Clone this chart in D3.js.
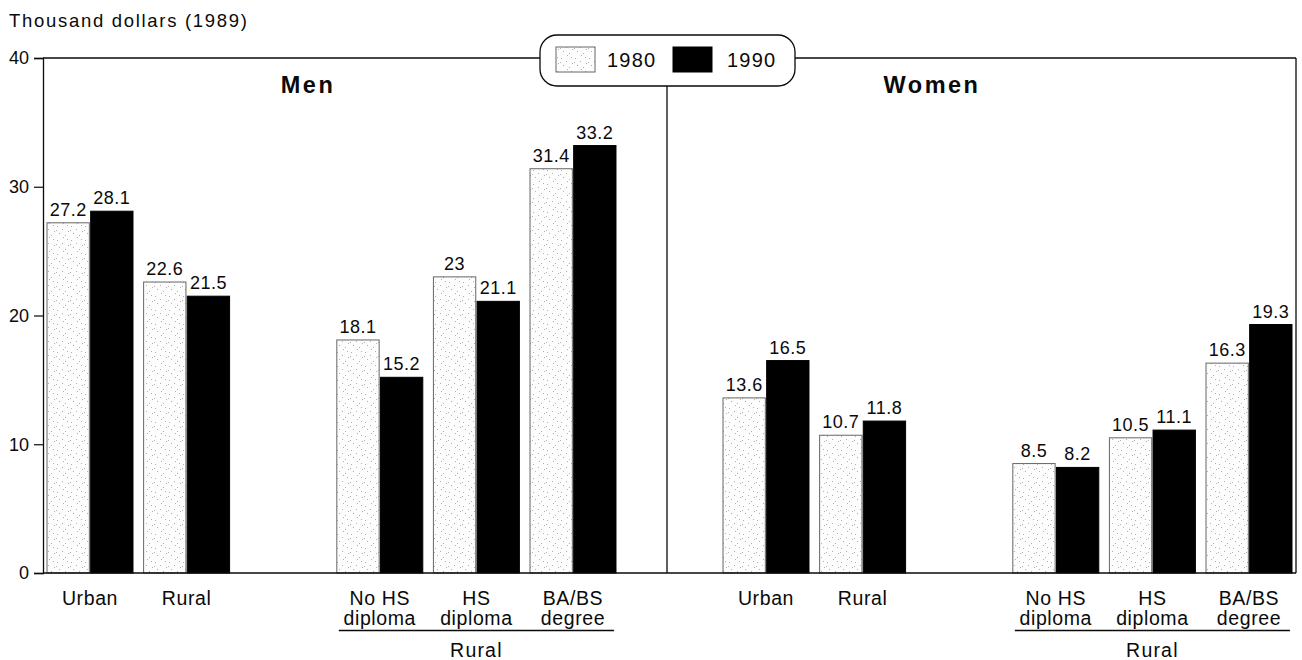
<!DOCTYPE html>
<html>
<head>
<meta charset="utf-8">
<script src="https://cdn.jsdelivr.net/npm/d3@7"></script>
<style>
  html, body { margin: 0; padding: 0; background: #fff; }
  svg { display: block; font-family: "Liberation Sans", Arial, Helvetica, sans-serif; }
</style>
</head>
<body>
<svg id="chart" width="1302" height="660"></svg>
<script>
// ---------- DATA ----------
const years = ["1980", "1990"];
const slots = ["Urban", "Rural", "gap", "NoHS", "HS", "BA"];
const slotLabels = { Urban: ["Urban"], Rural: ["Rural"], NoHS: ["No HS", "diploma"], HS: ["HS", "diploma"], BA: ["BA/BS", "degree"] };
const categories = ["Urban", "Rural", "NoHS", "HS", "BA"];
const panels = ["Men", "Women"];
const men1980 = [27.2, 22.6, 18.1, 23, 31.4];
const men1990 = [28.1, 21.5, 15.2, 21.1, 33.2];
const women1980 = [13.6, 10.7, 8.5, 10.5, 16.3];
const women1990 = [16.5, 11.8, 8.2, 11.1, 19.3];
const yTicks = [0, 10, 20, 30, 40];
const yTitle = "Thousand dollars (1989)";
const groupLabel = "Rural";

// ---------- LAYOUT ----------
const W = 1302, H = 660;
const axisX = 43, rightX = 1296, dividerX = 667;
const yTop = 58, yBottom = 573;
const step = 96.6;
const panelFirstCenter = { Men: axisX + 47, Women: dividerX + 99 };
const font = '"Liberation Sans", Arial, Helvetica, sans-serif';
const ink = "#0a0a0a";

const svg = d3.select("#chart");
const defs = svg.append("defs");

// stipple pattern for 1980 bars
const pat = defs.append("pattern").attr("id", "stip").attr("patternUnits", "userSpaceOnUse")
  .attr("width", 14).attr("height", 14);
pat.append("rect").attr("width", 14).attr("height", 14).attr("fill", "#fdfdfd");
[[1,2],[6,5],[11,1],[3,9],[9,11],[12,7],[7,13],[0,6]].forEach(([a,b]) =>
  pat.append("rect").attr("x", a).attr("y", b).attr("width", 1).attr("height", 1).attr("fill", "#b0b0b0"));

const y = d3.scaleLinear().domain([0, 40]).range([yBottom, yTop]);

// y axis
const yAxis = d3.axisLeft(y).tickValues(yTicks).tickSize(9).tickPadding(5).tickFormat(d3.format("d"));
const gy = svg.append("g").attr("transform", `translate(${axisX},0)`).call(yAxis);
gy.select(".domain").attr("stroke", ink).attr("stroke-width", 1.3);
gy.selectAll(".tick line").attr("stroke", ink).attr("stroke-width", 1.2);
gy.selectAll(".tick text").attr("font-family", font).attr("font-size", 18).attr("fill", ink);

// y title
svg.append("text").attr("x", 9).attr("y", 27).attr("font-size", 18.5).attr("letter-spacing", 1.7)
  .attr("fill", ink).text(yTitle);

// legend geometry
const legX0 = 540, legX1 = 795, legY0 = 35, legY1 = 86;

// frame: top line split by legend, right edge, divider
svg.append("line").attr("x1", axisX).attr("x2", legX0).attr("y1", yTop).attr("y2", yTop).attr("stroke", ink).attr("stroke-width", 1.3);
svg.append("line").attr("x1", legX1).attr("x2", rightX).attr("y1", yTop).attr("y2", yTop).attr("stroke", ink).attr("stroke-width", 1.3);
svg.append("line").attr("x1", rightX).attr("x2", rightX).attr("y1", yTop).attr("y2", yBottom).attr("stroke", ink).attr("stroke-width", 1.3);
svg.append("line").attr("x1", dividerX).attr("x2", dividerX).attr("y1", legY1).attr("y2", yBottom).attr("stroke", ink).attr("stroke-width", 1.3);

// legend
svg.append("rect").attr("x", legX0).attr("y", legY0).attr("width", legX1 - legX0).attr("height", legY1 - legY0)
  .attr("rx", 17).attr("fill", "#fff").attr("stroke", ink).attr("stroke-width", 1.3);
const legItems = [{ y: "1980", sx: 556, tx: 607 }, { y: "1990", sx: 673, tx: 727 }];
legItems.forEach((it, i) => {
  svg.append("rect").attr("x", it.sx).attr("y", 47).attr("width", 39).attr("height", 25)
    .attr("fill", i === 0 ? "url(#stip)" : "#000").attr("stroke", i === 0 ? "#666" : "#000").attr("stroke-width", 1);
  svg.append("text").attr("x", it.tx).attr("y", 67).attr("font-size", 20).attr("letter-spacing", 1.2)
    .attr("fill", ink).text(it.y);
});

// panels
const panelData = {
  Men: [men1980, men1990],
  Women: [women1980, women1990]
};

panels.forEach(p => {
  const c0 = panelFirstCenter[p];
  const x = d3.scaleBand().domain(slots).range([c0 - step / 2, c0 + 5.5 * step]).paddingInner(0.11).paddingOuter(0.055);
  const xi = d3.scaleBand().domain(years).range([0, x.bandwidth()]).paddingInner(0.03);
  const g = svg.append("g");

  const rows = [];
  categories.forEach((c, ci) => years.forEach((yr, yi) => rows.push({ c, yr, v: panelData[p][yi][ci] })));

  g.selectAll("rect.bar").data(rows).join("rect").attr("class", "bar")
    .attr("x", d => x(d.c) + xi(d.yr))
    .attr("y", d => y(d.v))
    .attr("width", xi.bandwidth())
    .attr("height", d => y(0) - y(d.v))
    .attr("fill", d => d.yr === "1980" ? "url(#stip)" : "#000")
    .attr("stroke", d => d.yr === "1980" ? "#666" : "#000")
    .attr("stroke-width", 1);

  g.selectAll("text.val").data(rows).join("text").attr("class", "val")
    .attr("x", d => x(d.c) + xi(d.yr) + xi.bandwidth() / 2)
    .attr("y", d => y(d.v) - 7)
    .attr("text-anchor", "middle").attr("font-size", 18).attr("letter-spacing", 0.5).attr("fill", ink)
    .text(d => String(d.v));

  // category labels
  categories.forEach(c => {
    const cx = x(c) + x.bandwidth() / 2;
    slotLabels[c].forEach((line, li) => {
      g.append("text").attr("x", cx).attr("y", 605 + li * 20).attr("text-anchor", "middle")
        .attr("font-size", 19.5).attr("letter-spacing", 0.6).attr("fill", ink).text(line);
    });
  });

  // group underline + label
  const gx0 = x("NoHS"), gx1 = x("BA") + x.bandwidth() - 2;
  g.append("line").attr("x1", gx0 + 2).attr("x2", gx1).attr("y1", 630.5).attr("y2", 630.5).attr("stroke", ink).attr("stroke-width", 1.4);
  g.append("text").attr("x", x("HS") + x.bandwidth() / 2).attr("y", 657).attr("text-anchor", "middle")
    .attr("font-size", 19.5).attr("letter-spacing", 1.2).attr("fill", ink).text(groupLabel);

  // panel title
  g.append("text").attr("x", (p === "Men" ? axisX : dividerX) + 265).attr("y", 93).attr("text-anchor", "middle")
    .attr("font-size", 23.5).attr("font-weight", "bold").attr("letter-spacing", 2.5).attr("fill", ink).text(p);
});

// baseline
svg.append("line").attr("x1", axisX).attr("x2", rightX).attr("y1", yBottom).attr("y2", yBottom).attr("stroke", ink).attr("stroke-width", 1.3);
</script>
</body>
</html>
